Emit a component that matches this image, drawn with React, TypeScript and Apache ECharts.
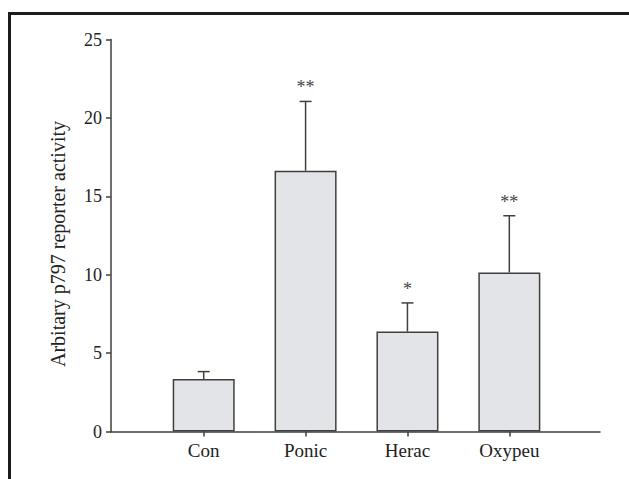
import React, { useEffect, useRef } from "react";
import * as echarts from "echarts";

const categories = ["Con", "Ponic", "Herac", "Oxypeu"];
const positions = [1, 2, 3, 4];
const means = [3.35, 16.63, 6.37, 10.14];
const upperError = [3.82, 21.05, 8.2, 13.76];
const significance = ["", "**", "*", "**"];
const yTicks = [0, 5, 10, 15, 20, 25];
const yAxisTitle = "Arbitary p797 reporter activity";

const FONT = '"Liberation Serif", "DejaVu Serif", "Times New Roman", serif';
const INK = "#3f3f3f";

export default function App() {
  const ref = useRef<HTMLDivElement>(null);

  useEffect(() => {
    if (!ref.current) return;
    const chart = echarts.init(ref.current, null, { renderer: "svg" });

    const barData = positions.map((p, i) => [p, means[i]]);
    const errData = positions.map((p, i) => [p, means[i], upperError[i], i]);

    chart.setOption({
      animation: false,
      backgroundColor: "#ffffff",
      textStyle: { fontFamily: FONT },
      graphic: [
        {
          type: "line",
          shape: { x1: 8, y1: 13.5, x2: 629, y2: 13.5 },
          style: { stroke: "#1c1c1c", lineWidth: 3 },
          z: 100,
        },
        {
          type: "line",
          shape: { x1: 9.5, y1: 12, x2: 9.5, y2: 479 },
          style: { stroke: "#1c1c1c", lineWidth: 3 },
          z: 100,
        },
        {
          type: "text",
          x: 58,
          y: 244,
          rotation: Math.PI / 2,
          style: {
            text: yAxisTitle,
            fill: "#222",
            font: `20px ${FONT}`,
            align: "center",
            verticalAlign: "middle",
          },
          z: 100,
        },
      ],
      grid: { left: 111, top: 39.5, right: 29, bottom: 47.5, containLabel: false },
      xAxis: {
        type: "value",
        min: 0.09,
        max: 4.89,
        splitLine: { show: false },
        axisLine: { show: true, onZero: false, lineStyle: { color: INK, width: 1.5 } },
        axisTick: {
          show: true,
          inside: false,
          length: 5,
          customValues: positions,
          lineStyle: { color: INK, width: 1.5 },
        },
        axisLabel: {
          customValues: positions,
          formatter: (v: number) => categories[Math.round(v) - 1] ?? "",
          margin: 9,
          color: "#222",
          fontFamily: FONT,
          fontSize: 19,
        },
      },
      yAxis: {
        type: "value",
        min: 0,
        max: 25,
        interval: 5,
        splitLine: { show: false },
        axisLine: { show: true, lineStyle: { color: INK, width: 1.5 } },
        axisTick: { show: true, length: 5, lineStyle: { color: INK, width: 1.5 } },
        axisLabel: {
          margin: 9,
          color: "#222",
          fontFamily: FONT,
          fontSize: 18,
          formatter: (v: number) => (yTicks.includes(v) ? String(v) : ""),
        },
      },
      series: [
        {
          type: "bar",
          data: barData,
          barWidth: 62,
          itemStyle: { color: "#e3e4e7", borderColor: INK, borderWidth: 1.5 },
          z: 2,
        },
        {
          type: "custom",
          data: errData,
          z: 3,
          renderItem: (params: any, api: any) => {
            const x = api.value(0);
            const top = api.coord([x, api.value(2)]);
            const base = api.coord([x, api.value(1)]);
            const idx = api.value(3);
            const capHalf = 6;
            const children: any[] = [
              {
                type: "line",
                shape: { x1: top[0], y1: top[1], x2: base[0], y2: base[1] },
                style: { stroke: INK, lineWidth: 1.5 },
              },
              {
                type: "line",
                shape: { x1: top[0] - capHalf, y1: top[1], x2: top[0] + capHalf, y2: top[1] },
                style: { stroke: INK, lineWidth: 1.5 },
              },
            ];
            const sig = significance[idx];
            if (sig) {
              children.push({
                type: "text",
                x: top[0],
                y: top[1] - 5,
                style: {
                  text: sig,
                  fill: "#444",
                  font: `18px ${FONT}`,
                  align: "center",
                  verticalAlign: "bottom",
                },
              });
            }
            return { type: "group", children };
          },
        },
      ],
    });

    return () => chart.dispose();
  }, []);

  return (
    <div
      ref={ref}
      style={{ position: "fixed", left: 0, top: 0, width: 629, height: 479 }}
    />
  );
}
